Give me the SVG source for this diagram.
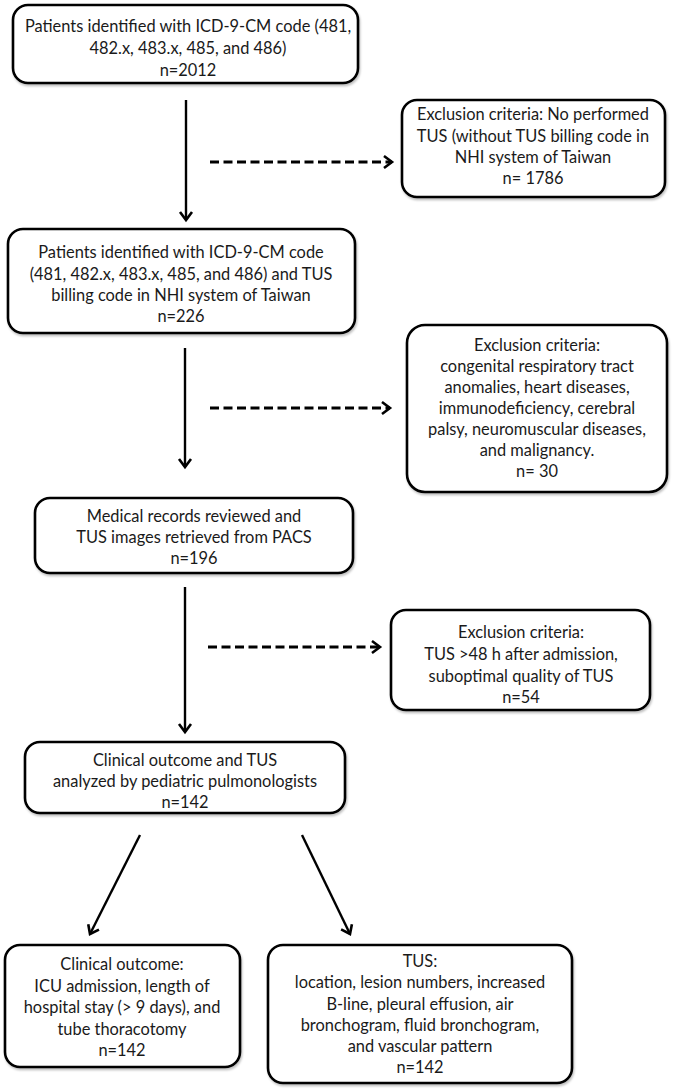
<svg xmlns="http://www.w3.org/2000/svg" width="675" height="1090" viewBox="0 0 675 1090">
<defs>
<marker id="arr" markerUnits="userSpaceOnUse" markerWidth="16" markerHeight="16" refX="11" refY="8" orient="auto">
<path d="M3,2 L11,8 L3,14" fill="none" stroke="#000" stroke-width="2.6" stroke-linejoin="miter"/>
</marker>
<filter id="sh" x="-5%" y="-5%" width="110%" height="115%">
<feDropShadow dx="1" dy="2" stdDeviation="1.2" flood-color="#000" flood-opacity="0.25"/>
</filter>
</defs>
<style>
.box{fill:#fff;stroke:#000;stroke-width:2.6;filter:url(#sh)}
text{font-family:Lato,"Open Sans","Liberation Sans",sans-serif;font-size:16.4px;fill:#1a1a1a;text-anchor:middle}
.solid{stroke:#000;stroke-width:2.4;fill:none;marker-end:url(#arr)}
.dash{stroke:#000;stroke-width:3;fill:none;stroke-dasharray:9 4.5;marker-end:url(#arr)}
</style>
<rect width="675" height="1090" fill="#fff"/>
<g id="connectors">
<line class="solid" x1="186" y1="100" x2="186" y2="220"/>
<line class="dash" x1="210" y1="162" x2="392" y2="162"/>
<line class="solid" x1="185" y1="348" x2="185" y2="467"/>
<line class="dash" x1="210" y1="408" x2="390" y2="408"/>
<line class="solid" x1="185" y1="587" x2="185" y2="732"/>
<line class="dash" x1="208" y1="647" x2="380" y2="647"/>
<line class="solid" x1="140" y1="835" x2="90" y2="934"/>
<line class="solid" x1="302" y1="835" x2="350" y2="934"/>
</g>
<g id="n1">
<rect class="box" x="13" y="5" width="345" height="78" rx="15"/>
<text x="188" y="32">Patients identified with ICD-9-CM code (481,</text>
<text x="188" y="54">482.x, 483.x, 485, and 486)</text>
<text x="188" y="76">n=2012</text>
</g>
<g id="ex1">
<rect class="box" x="402" y="100" width="263" height="97" rx="15"/>
<text x="533" y="120">Exclusion criteria: No performed</text>
<text x="533" y="142">TUS  (without TUS billing code in</text>
<text x="533" y="163">NHI system of Taiwan</text>
<text x="533" y="184">n= 1786</text>
</g>
<g id="n2">
<rect class="box" x="8" y="229" width="347" height="104" rx="15"/>
<text x="181" y="258">Patients identified with ICD-9-CM code</text>
<text x="181" y="280">(481, 482.x, 483.x, 485, and 486) and TUS</text>
<text x="181" y="301">billing code in NHI system of Taiwan</text>
<text x="181" y="322">n=226</text>
</g>
<g id="ex2">
<rect class="box" x="407" y="325" width="260" height="167" rx="18"/>
<text x="537" y="351">Exclusion criteria:</text>
<text x="537" y="372">congenital respiratory tract</text>
<text x="537" y="393">anomalies, heart diseases,</text>
<text x="537" y="414">immunodeficiency, cerebral</text>
<text x="537" y="435">palsy, neuromuscular diseases,</text>
<text x="537" y="456">and malignancy.</text>
<text x="537" y="477">n= 30</text>
</g>
<g id="n3">
<rect class="box" x="35" y="498" width="318" height="75" rx="15"/>
<text x="194" y="522">Medical records reviewed and</text>
<text x="194" y="543">TUS images retrieved from PACS</text>
<text x="194" y="564">n=196</text>
</g>
<g id="ex3">
<rect class="box" x="391" y="610" width="259" height="100" rx="15"/>
<text x="521" y="638">Exclusion criteria:</text>
<text x="521" y="660">TUS &gt;48 h after admission,</text>
<text x="521" y="682">suboptimal quality of TUS</text>
<text x="521" y="703">n=54</text>
</g>
<g id="n4">
<rect class="box" x="25" y="742" width="320" height="71" rx="15"/>
<text x="185" y="766">Clinical outcome and TUS</text>
<text x="185" y="787">analyzed by pediatric pulmonologists</text>
<text x="185" y="808">n=142</text>
</g>
<g id="n5">
<rect class="box" x="5" y="945" width="235" height="122" rx="15"/>
<text x="122" y="970">Clinical outcome:</text>
<text x="122" y="992">ICU admission, length of</text>
<text x="122" y="1013">hospital stay (&gt; 9 days), and</text>
<text x="122" y="1035">tube thoracotomy</text>
<text x="122" y="1056">n=142</text>
</g>
<g id="n6">
<rect class="box" x="268" y="945" width="304" height="138" rx="15"/>
<text x="420" y="967">TUS:</text>
<text x="420" y="988">location, lesion numbers, increased</text>
<text x="420" y="1010">B-line, pleural effusion, air</text>
<text x="420" y="1031">bronchogram, fluid bronchogram,</text>
<text x="420" y="1052">and vascular pattern</text>
<text x="420" y="1073">n=142</text>
</g>
</svg>
